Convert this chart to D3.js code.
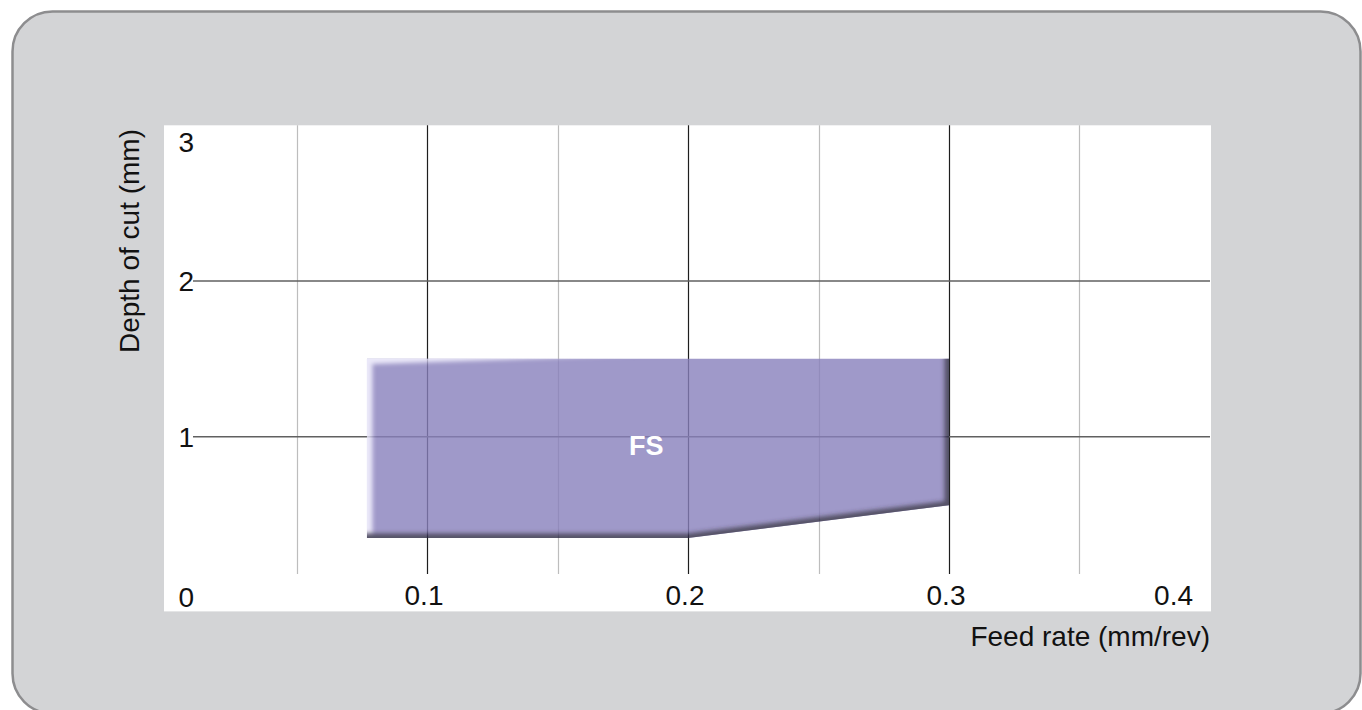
<!DOCTYPE html>
<html>
<head>
<meta charset="utf-8">
<script src="https://cdn.jsdelivr.net/npm/d3@7/dist/d3.min.js"></script>
<style>
  html, body { margin: 0; padding: 0; background: #ffffff; }
  svg { display: block; font-family: "Liberation Sans", Arial, Helvetica, sans-serif; }
</style>
</head>
<body>
<svg id="chart" width="1362" height="710"></svg>
<script>
// ---- data ----
const xTickValues = [0.1, 0.2, 0.3, 0.4];
const xTickLabels = ["0.1", "0.2", "0.3", "0.4"];
const yTickValues = [1, 2, 3];
const yTickLabels = ["1", "2", "3"];
const majorGridX = [0.1, 0.2, 0.3];
const minorGridX = [0.05, 0.15, 0.25, 0.35];
const gridY = [1, 2];
const regionFeed  = [0.077, 0.077, 0.3, 0.3, 0.2];
const regionDepth = [0.35, 1.5, 1.5, 0.56, 0.35];
const regionName = "FS";
const regionLabelFeed = 0.184;
const regionLabelDepth = 0.945;
const xTitle = "Feed rate (mm/rev)";
const yTitle = "Depth of cut (mm)";
const originLabel = "0";

// ---- layout ----
const svg = d3.select("#chart");
const x = d3.scaleLinear().domain([0, 0.4]).range([166, 1210]);
const y = d3.scaleLinear().domain([0, 3]).range([592.4, 125.3]);

// outer panel
svg.append("rect")
  .attr("x", 12.5).attr("y", 11.5)
  .attr("width", 1348).attr("height", 702)
  .attr("rx", 40).attr("ry", 40)
  .attr("fill", "#d3d4d6")
  .attr("stroke", "#8d8d8f")
  .attr("stroke-width", 2.5);

// plot background
svg.append("rect")
  .attr("x", x(0) - 2).attr("y", y(3))
  .attr("width", x(0.4) - x(0) + 3)
  .attr("height", y(0) - y(3) + 19)
  .attr("fill", "#ffffff");

const gridBottom = 574;

// grid lines
svg.append("g").selectAll("line").data(minorGridX).join("line")
  .attr("x1", d => Math.round(x(d)) + 0.5).attr("x2", d => Math.round(x(d)) + 0.5)
  .attr("y1", y(3)).attr("y2", gridBottom)
  .attr("stroke", "#bdbdbd").attr("stroke-width", 1.2);

svg.append("g").selectAll("line").data(majorGridX).join("line")
  .attr("x1", d => Math.round(x(d)) + 0.5).attr("x2", d => Math.round(x(d)) + 0.5)
  .attr("y1", y(3)).attr("y2", gridBottom)
  .attr("stroke", "#1e1e1e").attr("stroke-width", 1.2);

svg.append("g").selectAll("line").data(gridY).join("line")
  .attr("x1", 193).attr("x2", x(0.4))
  .attr("y1", d => y(d)).attr("y2", d => y(d))
  .attr("stroke", "#606060").attr("stroke-width", 1.5);

// region polygon with bevel
const pts = regionFeed.map((f, i) => [x(f), y(regionDepth[i])]);
const line = d3.line();
const defs = svg.append("defs");
defs.append("clipPath").attr("id", "regionClip")
  .append("path").attr("d", line(pts) + "Z");
const blur = defs.append("filter").attr("id", "soft")
  .attr("x", "-10%").attr("y", "-10%").attr("width", "120%").attr("height", "120%");
blur.append("feGaussianBlur").attr("stdDeviation", 2.2);

const region = svg.append("g").attr("opacity", 0.8);
region.append("path").attr("d", line(pts) + "Z").attr("fill", "#8880bc");
const bevel = region.append("g").attr("clip-path", "url(#regionClip)");
// highlight: top and left edges (points 0 -> 1 -> 2)
bevel.append("path")
  .attr("d", line([[pts[2][0], pts[2][1] - 20], pts[1], [pts[0][0], pts[0][1] + 20]]))
  .attr("fill", "none").attr("stroke", "#e6e3f8").attr("stroke-width", 11)
  .attr("filter", "url(#soft)");
// shadow: right, slanted and bottom edges (points 2 -> 3 -> 4 -> 0)
bevel.append("path")
  .attr("d", line([[pts[2][0], pts[2][1] - 20], pts[3], pts[4], [pts[0][0] - 20, pts[0][1]]]))
  .attr("fill", "none").attr("stroke", "#2a2740").attr("stroke-width", 9)
  .attr("filter", "url(#soft)");

svg.append("text")
  .attr("x", x(regionLabelFeed)).attr("y", y(regionLabelDepth) + 10)
  .attr("text-anchor", "middle")
  .attr("font-size", 27).attr("font-weight", "bold")
  .attr("fill", "#ffffff")
  .text(regionName);

// tick labels
svg.append("g").selectAll("text").data(xTickValues).join("text")
  .attr("x", (d, i) => i === xTickValues.length - 1 ? x(d) - 17 : x(d) - 3)
  .attr("y", 605)
  .attr("text-anchor", (d, i) => i === xTickValues.length - 1 ? "end" : "middle")
  .attr("font-size", 28).attr("fill", "#111")
  .text((d, i) => xTickLabels[i]);

svg.append("g").selectAll("text").data(yTickValues).join("text")
  .attr("x", 194)
  .attr("y", d => Math.max(y(d), y(3) + 17) + 10)
  .attr("text-anchor", "end")
  .attr("font-size", 28).attr("fill", "#111")
  .text((d, i) => yTickLabels[i]);

svg.append("text")
  .attr("x", 194).attr("y", 607)
  .attr("text-anchor", "end")
  .attr("font-size", 28).attr("fill", "#111")
  .text(originLabel);

// axis titles
svg.append("text")
  .attr("x", 1210).attr("y", 646)
  .attr("text-anchor", "end")
  .attr("font-size", 28).attr("fill", "#111")
  .text(xTitle);

svg.append("text")
  .attr("transform", "translate(139,241) rotate(-90)")
  .attr("text-anchor", "middle")
  .attr("font-size", 28).attr("fill", "#111")
  .text(yTitle);
</script>
</body>
</html>
